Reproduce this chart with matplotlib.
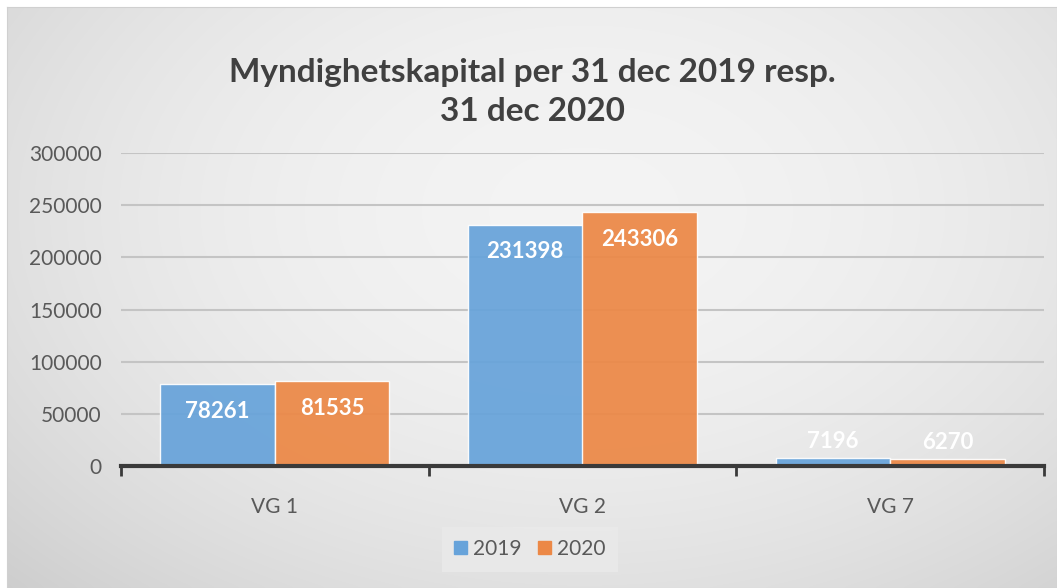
import numpy as np
import matplotlib
matplotlib.use("Agg")
import matplotlib.pyplot as plt
from matplotlib.patches import Patch

categories = ["VG 1", "VG 2", "VG 7"]
years = ["2019", "2020"]
values_2019 = [78261, 231398, 7196]
values_2020 = [81535, 243306, 6270]
yticks = [0, 50000, 100000, 150000, 200000, 250000, 300000]

plt.rcParams['font.family'] = ['Lato', 'DejaVu Sans']

W, H = 1057, 588
fig = plt.figure(figsize=(W / 100, H / 100), dpi=100)
fig.patch.set_facecolor("white")

# chart area background: soft radial gray gradient
bg = fig.add_axes([7 / W, 0, 1 - 7 / W, 1 - 7 / H], zorder=0)
yy, xx = np.mgrid[0:1:200j, 0:1:360j]
r = np.sqrt(((xx - 0.55) / 0.75) ** 2 + ((yy - 0.35) / 0.9) ** 2)
shade = 0.955 - 0.14 * np.clip(r, 0, 1.2) ** 2
bg.imshow(np.dstack([shade] * 3), aspect="auto", extent=[0, 1, 0, 1],
          interpolation="bicubic")
bg.set_xticks([])
bg.set_yticks([])
for s in bg.spines.values():
    s.set_color("#d0d0d0")

ax = fig.add_axes([121 / W, 1 - 466 / H, (1044 - 121) / W, (466 - 153) / H], zorder=1)
ax.patch.set_alpha(0)

x = np.arange(len(categories))
bw = 0.372
c19 = "#67A3DA"
c20 = "#EC8846"
b1 = ax.bar(x - bw / 2, values_2019, bw, color=c19, edgecolor="white", linewidth=1,
            alpha=0.93, zorder=2)
b2 = ax.bar(x + bw / 2, values_2020, bw, color=c20, edgecolor="white", linewidth=1,
            alpha=0.93, zorder=2)

for bars in (b1, b2):
    for b in bars:
        v = b.get_height()
        off = 12 if v < 30000 else -19.5
        ax.annotate(str(v), (b.get_x() + b.get_width() / 2, v), xytext=(0, off),
                    textcoords="offset points", ha="center", va="center",
                    color="white", fontsize=16, fontweight="bold", zorder=3)

ax.set_xlim(-0.5, 2.5)
ax.set_ylim(0, 300000)
ax.set_yticks(yticks)
ax.set_yticklabels([str(t) for t in yticks])
ax.yaxis.grid(True, color="#c4c4c4", linewidth=1.5, zorder=0)
ax.set_axisbelow(True)
ax.tick_params(axis="y", length=0, pad=14, labelsize=15, labelcolor="#595959")
ax.set_xticks(x)
ax.set_xticklabels(categories)
ax.tick_params(axis="x", which="major", length=0, pad=22, labelsize=15,
               labelcolor="#595959")
ax.set_xticks([-0.5, 0.5, 1.5, 2.5], minor=True)
ax.tick_params(axis="x", which="minor", length=7, width=2, color="#3a3a3a",
               direction="out")
for s in ["top", "right", "left"]:
    ax.spines[s].set_visible(False)
ax.spines["bottom"].set_color("#3a3a3a")
ax.spines["bottom"].set_linewidth(3)

fig.text(532 / W, 1 - 92 / H, "Myndighetskapital per 31 dec 2019 resp.\n31 dec 2020",
         ha="center", va="center", fontsize=24, fontweight="bold", color="#404040",
         linespacing=1.45)

handles = [Patch(color=c19, label=years[0]), Patch(color=c20, label=years[1])]
leg = fig.legend(handles=handles, loc="center", bbox_to_anchor=(530 / W, 1 - 549 / H),
                 ncol=2, frameon=True, fontsize=15, handlelength=0.6, handleheight=0.6,
                 handletextpad=0.3, columnspacing=0.8, labelcolor="#595959")
leg.get_frame().set_facecolor("#eaeaea")
leg.get_frame().set_edgecolor("none")
leg.get_frame().set_boxstyle("square", pad=0.2)

fig.savefig("out.png", dpi=100)
